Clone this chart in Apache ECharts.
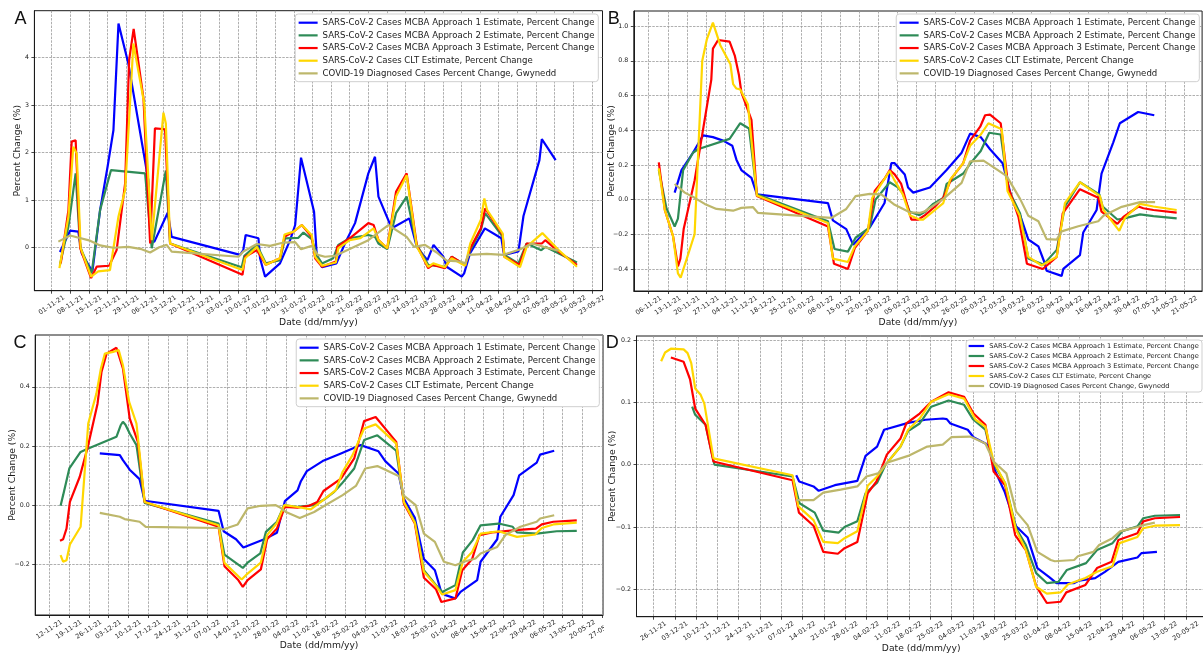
<!DOCTYPE html>
<html>
<head>
<meta charset="utf-8">
<script src="https://cdn.jsdelivr.net/npm/echarts@6/dist/echarts.min.js"></script>
<style>
html, body { margin: 0; padding: 0; background: #fff; }
#wrap { position: relative; width: 1203px; height: 655px; overflow: hidden; background: #fff; }
.panel { position: absolute; overflow: hidden; }
</style>
</head>
<body>
<div id="wrap">
  <div id="pA" class="panel" style="left:0;top:0;width:604px;height:330px"></div>
  <div id="pB" class="panel" style="left:604px;top:0;width:599px;height:330px"></div>
  <div id="pC" class="panel" style="left:0;top:330px;width:604px;height:325px"></div>
  <div id="pD" class="panel" style="left:604px;top:330px;width:599px;height:325px"></div>
</div>
<script>
// ---- Series names and colours (shared by all four panels) ----
const seriesNames = [
  'SARS-CoV-2 Cases MCBA Approach 1 Estimate, Percent Change',
  'SARS-CoV-2 Cases MCBA Approach 2 Estimate, Percent Change',
  'SARS-CoV-2 Cases MCBA Approach 3 Estimate, Percent Change',
  'SARS-CoV-2 Cases CLT Estimate, Percent Change',
  'COVID-19 Diagnosed Cases Percent Change, Gwynedd'
];
const seriesColors = ['#0000ff', '#2e8b57', '#ff0000', '#ffd700', '#bdb76b'];

// ---- Tick labels ----
const ticksA = ['01-11-21','08-11-21','15-11-21','22-11-21','29-11-21','06-12-21','13-12-21','20-12-21','27-12-21','03-01-22','10-01-22','17-01-22','24-01-22','31-01-22','07-02-22','14-02-22','21-02-22','28-02-22','07-03-22','14-03-22','21-03-22','28-03-22','04-04-22','11-04-22','18-04-22','25-04-22','02-05-22','09-05-22','16-05-22','23-05-22'];
const ticksB = ['06-11-21','13-11-21','20-11-21','27-11-21','04-12-21','11-12-21','18-12-21','25-12-21','01-01-22','08-01-22','15-01-22','22-01-22','29-01-22','05-02-22','12-02-22','19-02-22','26-02-22','05-03-22','12-03-22','19-03-22','26-03-22','02-04-22','09-04-22','16-04-22','23-04-22','30-04-22','07-05-22','14-05-22','21-05-22'];
const ticksC = ['12-11-21','19-11-21','26-11-21','03-12-21','10-12-21','17-12-21','24-12-21','31-12-21','07-01-22','14-01-22','21-01-22','28-01-22','04-02-22','11-02-22','18-02-22','25-02-22','04-03-22','11-03-22','18-03-22','25-03-22','01-04-22','08-04-22','15-04-22','22-04-22','29-04-22','06-05-22','13-05-22','20-05-22','27-05-22'];
const ticksD = ['26-11-21','03-12-21','10-12-21','17-12-21','24-12-21','31-12-21','07-01-22','14-01-22','21-01-22','28-01-22','04-02-22','11-02-22','18-02-22','25-02-22','04-03-22','11-03-22','18-03-22','25-03-22','01-04-22','08-04-22','15-04-22','22-04-22','29-04-22','06-05-22','13-05-22','20-05-22'];
const yTicksA = [0, 1, 2, 3, 4];
const yTicksB = [-0.4, -0.2, 0, 0.2, 0.4, 0.6, 0.8, 1.0];
const yTicksC = [-0.2, 0, 0.2, 0.4];
const yTicksD = [-0.2, -0.1, 0, 0.1, 0.2];

// ---- Data: [days since 01-11-21, percent change] ----
// Panel A
const aMcba1 = [[3.1,-0.1],[6.9,0.35],[10,0.33],[11.3,-0.13],[15.3,-0.51],[18.2,0.79],[21,1.7],[23.2,2.47],[25.1,4.72],[28.8,3.88],[36.3,1.42],[37.6,0.12],[38.6,0.12],[43.6,0.73],[45.1,0.22],[70.8,-0.16],[72,-0.06],[72.9,0.26],[77.7,0.19],[78.3,-0.23],[80.2,-0.62],[85.8,-0.34],[89.6,0.15],[91.5,0.47],[93.7,1.89],[98.6,0.75],[99.6,-0.16],[101.6,-0.42],[107,-0.34],[110.2,0.08],[114,0.51],[119,1.56],[121.5,1.91],[122.8,1.07],[127.8,0.4],[134.4,0.61],[137.2,0.01],[141.2,-0.27],[143.5,0.05],[147.2,-0.2],[148.4,-0.41],[154.1,-0.62],[155,-0.55],[157.2,-0.13],[162.8,0.4],[169,0.19],[170,-0.16],[175.4,-0.09],[177.3,0.66],[183.3,1.84],[184.2,2.28],[189.4,1.84]];
const aMcba2 = [[3.1,-0.37],[6.3,0.44],[9,1.56],[10.7,0],[15,-0.55],[18.2,0.79],[22.3,1.63],[35.1,1.56],[37.6,-0.02],[42.9,1.62],[44.5,0.08],[71.4,-0.42],[72.4,-0.18],[77.1,0.05],[80.5,-0.34],[85.8,-0.27],[87.7,0.19],[92.7,0.2],[94.6,0.31],[97.7,0.17],[100,-0.2],[101.6,-0.34],[105.8,-0.23],[107.7,0.05],[112,0.19],[119,0.26],[121.5,0.22],[122.8,0.08],[126.1,-0.04],[129.4,0.72],[133.4,1.07],[137.2,0.05],[141.5,-0.37],[147.8,-0.41],[150.3,-0.2],[155.4,-0.37],[157.3,-0.06],[161.3,0.37],[162.9,0.72],[169.5,0.22],[170.1,-0.16],[175.4,-0.34],[178.5,0.08],[184,-0.06],[185.5,0.01],[197.4,-0.32]];
const aMcba3 = [[3.4,-0.34],[6.3,0.79],[7.5,2.23],[9,2.26],[10.7,-0.02],[14.8,-0.65],[16.9,-0.41],[21.6,-0.39],[24.4,-0.06],[27.6,1.35],[29.1,3.95],[30.8,4.61],[34.5,3.14],[37,0.08],[38.8,2.51],[42.6,2.49],[44.5,0.08],[71.7,-0.58],[72.7,-0.2],[77.1,-0.06],[80.5,-0.37],[85.8,-0.23],[87.5,0.22],[90.9,0.33],[94,0.47],[97.7,0.22],[99,-0.23],[101.6,-0.41],[106.8,-0.3],[107.3,0.01],[112,0.19],[119,0.51],[121,0.47],[122.8,0.15],[126.1,-0.02],[129.4,1.17],[133.4,1.56],[137.2,0.05],[141.5,-0.44],[143.2,-0.37],[147.8,-0.44],[150.3,-0.2],[155.4,-0.37],[157.3,-0.02],[161.3,0.4],[162.9,0.82],[169.5,0.26],[170.1,-0.2],[175.8,-0.37],[178.5,0.08],[184.2,0.08],[185.5,0.15],[190.5,-0.09],[197.4,-0.37]];
const aClt = [[2.9,-0.44],[6.3,0.65],[8.1,2.12],[9.4,1.98],[10.9,-0.02],[14.8,-0.62],[17.5,-0.51],[21.9,-0.48],[25.1,0.65],[27.6,1.21],[30.7,4.3],[34.8,3.03],[37.6,0.15],[42,2.84],[42.9,2.61],[44.5,0.08],[71.7,-0.48],[72.7,-0.23],[77.1,0.01],[80.5,-0.37],[85.8,-0.23],[87.5,0.27],[90.9,0.33],[94,0.47],[97.7,0.26],[99,-0.2],[101.6,-0.39],[106.8,-0.32],[107.7,-0.02],[112,0.15],[115.9,0.19],[121,0.4],[122.8,0.15],[126.1,-0.02],[129.4,1.07],[133.4,1.52],[137.2,0.01],[141.5,-0.41],[143.4,-0.34],[147.8,-0.42],[150.3,-0.23],[155.4,-0.39],[157.3,0.08],[161.3,0.58],[162.6,1.03],[163.6,0.79],[169.5,0.29],[170.1,-0.2],[176,-0.42],[178.5,0.01],[184.4,0.3],[190.5,-0.06],[197.4,-0.41]];
const aGwynedd = [[2.5,0.12],[6.9,0.25],[14.4,0.14],[18.2,0.04],[23.2,-0.01],[28.8,0.01],[33.8,-0.04],[37,-0.11],[40.4,0],[43.2,0.05],[45.1,-0.09],[70.2,-0.2],[72,-0.09],[77.1,0.07],[82.1,0.03],[87.1,0.1],[91.5,0.11],[93.7,-0.04],[97.7,0.03],[100,-0.16],[102.7,-0.2],[106.5,-0.18],[110,-0.09],[119,0.15],[126.5,0.47],[133.4,0.22],[136.2,0.01],[140.3,0.05],[144.7,-0.11],[148.4,-0.28],[153.5,-0.3],[155.4,-0.34],[156.6,-0.16],[163.5,-0.14],[169.8,-0.16],[176.1,-0.04],[180.5,0.08],[184.9,0.01],[190.5,-0.07]];

// Panel B
const bMcba1 = [[14.5,0.04],[17,0.17],[21.2,0.27],[24.9,0.37],[28.5,0.36],[32.2,0.34],[35.6,0.31],[37.1,0.23],[38.9,0.17],[42.6,0.125],[44.6,0.03],[70.6,-0.02],[72.4,-0.12],[77.3,-0.17],[79.8,-0.26],[85.9,-0.16],[91.3,-0.02],[93.8,0.21],[95,0.21],[98.7,0.145],[99.9,0.07],[101.8,0.04],[107.9,0.07],[114,0.17],[119.5,0.27],[122.6,0.38],[126.5,0.36],[129.9,0.29],[134.5,0.21],[137.8,0.01],[140.9,-0.09],[143.9,-0.23],[147.6,-0.27],[150,-0.37],[150.6,-0.41],[156.1,-0.44],[156.7,-0.4],[162.8,-0.32],[164,-0.19],[168.9,-0.06],[170.7,0.15],[175,0.33],[177.4,0.44],[184.1,0.505],[190,0.486]];
const bMcba2 = [[8.7,0.17],[11.5,-0.05],[14.5,-0.155],[15.7,-0.11],[17.6,0.17],[21.2,0.27],[23,0.29],[34.6,0.35],[38.5,0.44],[41.7,0.41],[44.6,0.03],[70.6,-0.125],[73,-0.285],[77.9,-0.3],[80.7,-0.22],[85.9,-0.16],[88,0],[93.2,0.1],[96.2,0.07],[97.8,0.04],[100.5,-0.07],[104.1,-0.09],[106.1,-0.07],[109.1,-0.025],[112.8,0.01],[114,0.09],[120.1,0.15],[122.8,0.21],[126.5,0.28],[129.6,0.385],[133.8,0.375],[136.6,0.06],[140.9,-0.08],[143.9,-0.34],[149.4,-0.375],[154.3,-0.29],[157.3,-0.04],[162.8,0.1],[169.9,0.03],[171.1,-0.04],[176.5,-0.115],[178.7,-0.11],[184.8,-0.085],[189.7,-0.095],[198.2,-0.108]];
const bMcba3 = [[8.7,0.215],[10.9,-0.06],[13.9,-0.21],[15.7,-0.385],[16.6,-0.34],[17.8,-0.17],[21.8,0.11],[27.9,0.69],[28.5,0.87],[30.4,0.92],[34.6,0.91],[36.5,0.83],[38,0.72],[38.9,0.62],[42.6,0.46],[44.6,0.02],[70.6,-0.155],[72.8,-0.37],[77.9,-0.4],[80.4,-0.28],[85.2,-0.18],[87.7,0.05],[91.3,0.12],[93.2,0.17],[95,0.145],[97.4,0.09],[99.3,-0.015],[101.1,-0.115],[103.7,-0.115],[106.1,-0.09],[109.8,-0.04],[112.8,0.01],[115.9,0.125],[120.1,0.21],[122.6,0.34],[126.3,0.42],[128.1,0.486],[129.9,0.49],[133.8,0.44],[136.6,0.07],[140.3,-0.1],[143.4,-0.37],[149.2,-0.4],[154.3,-0.33],[156.5,-0.08],[162.8,0.06],[169.5,0.01],[170.7,-0.07],[176.5,-0.14],[178.7,-0.1],[184.2,-0.04],[186,-0.05],[189.7,-0.06],[198.2,-0.075]];
const bClt = [[8.7,0.18],[10.9,-0.06],[13.9,-0.21],[15.7,-0.425],[16.7,-0.45],[21.8,-0.2],[24.6,0.8],[26.3,0.925],[28.5,1.02],[31.2,0.89],[34.9,0.78],[35.9,0.665],[37.1,0.64],[38.5,0.635],[41.3,0.55],[44.6,0.023],[70.6,-0.135],[72.4,-0.34],[77.9,-0.36],[80.4,-0.27],[85.2,-0.18],[86.8,0.01],[93.2,0.165],[94.8,0.115],[98,0.03],[100.5,-0.09],[104.1,-0.115],[105.5,-0.115],[112.8,-0.02],[115.3,0.115],[120.1,0.21],[122.6,0.31],[126.5,0.375],[129.3,0.44],[134.2,0.405],[136.3,0.05],[140.7,-0.09],[143.9,-0.33],[148.8,-0.38],[154.3,-0.33],[157.3,-0.02],[162.8,0.1],[170.1,0.02],[171.4,-0.06],[177.2,-0.18],[179.3,-0.105],[184.8,-0.025],[189.7,-0.04],[198.2,-0.06]];
const bGwynedd = [[14.5,0.09],[18.2,0.04],[21.8,0.01],[25.5,-0.025],[29.8,-0.054],[35.9,-0.064],[38.9,-0.048],[43.2,-0.044],[45,-0.077],[71.8,-0.106],[77.3,-0.054],[80.7,0.02],[85.9,0.033],[90.1,0.03],[95,-0.03],[100.5,-0.073],[104.1,-0.077],[106.1,-0.067],[112.8,0.004],[119.5,0.096],[122.6,0.22],[127.5,0.225],[131.8,0.18],[136,0.135],[140.9,0.004],[143.9,-0.093],[147.6,-0.125],[150.6,-0.228],[154.3,-0.231],[156.1,-0.183],[162.2,-0.154],[169.5,-0.125],[171.4,-0.093],[178.1,-0.042],[184.8,-0.015],[190.3,-0.015]];

// Panel C
const cMcba1 = [[28.9,0.175],[36,0.169],[37.1,0.152],[39.5,0.12],[43,0.088],[44.8,0.015],[71,-0.019],[72.8,-0.088],[77.2,-0.115],[79.8,-0.143],[87.2,-0.115],[91.7,-0.093],[94.5,0.0135],[99,0.05],[100.2,0.081],[102.3,0.115],[107.9,0.149],[114.4,0.175],[121.4,0.203],[127.7,0.182],[130.1,0.149],[134.8,0.107],[136.7,0.0225],[140.6,-0.043],[143.8,-0.182],[147.7,-0.22],[150,-0.295],[151.5,-0.304],[155,-0.315],[156.8,-0.293],[162.7,-0.253],[163.9,-0.191],[169.8,-0.115],[170.9,-0.039],[175.6,0.034],[177.6,0.101],[183.8,0.144],[185,0.171],[190,0.184]];
const cMcba2 = [[15,-0.002],[15.9,0.034],[18.1,0.124],[22.1,0.18],[24.2,0.189],[34.8,0.231],[36.3,0.27],[37.1,0.282],[38,0.272],[39.5,0.242],[41.9,0.203],[44.8,0.008],[71,-0.062],[73.1,-0.167],[79.6,-0.212],[81.3,-0.194],[85.8,-0.163],[87.8,-0.09],[91.7,-0.056],[94.3,0],[99,-0.006],[104.9,0],[108.4,0.019],[112,0.045],[114.7,0.073],[119.1,0.124],[122.6,0.22],[127.3,0.236],[134,0.184],[136.7,0.011],[140.6,-0.056],[143.8,-0.22],[147.9,-0.268],[150.3,-0.293],[155,-0.27],[157.6,-0.16],[161.1,-0.118],[163.9,-0.068],[170.3,-0.062],[175.3,-0.073],[176.8,-0.092],[183.8,-0.096],[190.9,-0.088],[198,-0.087]];
const cMcba3 = [[14.8,-0.12],[15.9,-0.115],[17.1,-0.079],[18.3,0.011],[21.8,0.096],[24.8,0.203],[28.1,0.343],[29.5,0.45],[31.3,0.512],[34.8,0.532],[37.1,0.462],[39.5,0.293],[42.4,0.214],[44.8,0.011],[71,-0.073],[73.1,-0.206],[78,-0.253],[79.6,-0.276],[81.3,-0.253],[86,-0.217],[88.2,-0.115],[91.7,-0.079],[94.5,-0.006],[99,-0.008],[103.1,-0.002],[106,0.011],[108.2,0.048],[114.4,0.09],[119.1,0.158],[122.6,0.284],[126.7,0.298],[134,0.214],[136.7,0.006],[140.6,-0.062],[143.8,-0.245],[148.1,-0.284],[150,-0.327],[155,-0.315],[157.4,-0.22],[160.9,-0.182],[163.5,-0.101],[168,-0.092],[170.3,-0.09],[176.2,-0.084],[183.5,-0.079],[185.6,-0.065],[189.7,-0.056],[198,-0.051]];
const cClt = [[15,-0.169],[15.9,-0.191],[17.1,-0.186],[18.3,-0.133],[22.1,-0.073],[24.8,0.276],[27.7,0.377],[29.3,0.462],[30.7,0.512],[33.6,0.518],[35.6,0.524],[37.1,0.473],[39.3,0.349],[41.9,0.276],[44.8,0.011],[71,-0.068],[73.1,-0.195],[79.2,-0.251],[81.3,-0.231],[86,-0.194],[88.2,-0.101],[91.7,-0.06],[94.3,0],[99,-0.006],[103.7,-0.014],[108.2,0.018],[112.6,0.051],[115,0.113],[118.5,0.169],[122.6,0.259],[126.7,0.273],[134,0.208],[136.7,0.011],[140.6,-0.059],[143.8,-0.225],[147.9,-0.27],[150.3,-0.302],[155,-0.287],[157.6,-0.191],[160.9,-0.158],[163.9,-0.096],[170.3,-0.088],[176.8,-0.107],[183.3,-0.099],[185.6,-0.077],[189.7,-0.065],[198,-0.059]];
const cGwynedd = [[28.9,-0.026],[36,-0.039],[37.7,-0.047],[43,-0.056],[45.2,-0.073],[70.8,-0.077],[72.5,-0.082],[77.8,-0.065],[81.3,-0.011],[86,-0.002],[91.3,0],[92.5,-0.006],[94.9,-0.023],[99.8,-0.043],[104.9,-0.023],[107.5,-0.008],[115,0.034],[119.7,0.065],[123,0.124],[127.3,0.132],[135,0.098],[136.7,0.032],[140.9,0],[143.8,-0.096],[147.7,-0.124],[150.9,-0.191],[155,-0.203],[158,-0.191],[162.1,-0.18],[163.9,-0.163],[169.8,-0.141],[172.7,-0.101],[178,-0.073],[183.8,-0.056],[185,-0.045],[190,-0.034]];

// Panel D
const dMcba1 = [[71.9,-0.017],[72.9,-0.027],[77.6,-0.035],[79.3,-0.042],[84.6,-0.033],[92,-0.026],[94.7,0.014],[98.5,0.029],[100.8,0.056],[108.7,0.067],[114.4,0.072],[120.1,0.074],[121.4,0.073],[122.6,0.066],[128.3,0.056],[130.2,0.044],[134.1,0.034],[135.3,0.029],[137.2,-0.009],[140.4,-0.043],[144.2,-0.099],[148,-0.117],[151.2,-0.166],[155,-0.18],[157.5,-0.19],[163.3,-0.19],[164.9,-0.186],[170.2,-0.182],[173.4,-0.172],[177.8,-0.156],[184.1,-0.149],[185.4,-0.142],[190.5,-0.14]];
const dMcba2 = [[37.7,0.093],[38.7,0.08],[42.1,0.064],[45,0],[70.7,-0.019],[73,-0.062],[78,-0.077],[80.8,-0.106],[85.9,-0.109],[87.8,-0.1],[92,-0.091],[94.7,-0.046],[98.5,-0.029],[101.3,0],[106.2,0.029],[108.7,0.054],[112.5,0.066],[116.3,0.093],[122,0.103],[127.1,0.096],[130,0.073],[134.1,0.056],[136.8,0.002],[140.6,-0.03],[144.2,-0.102],[147.4,-0.129],[150.8,-0.174],[154.3,-0.19],[158.1,-0.188],[160.9,-0.169],[167.2,-0.158],[170.8,-0.137],[175.9,-0.126],[179.1,-0.107],[184.1,-0.099],[186,-0.086],[189.8,-0.082],[198.1,-0.081]];
const dMcba3 = [[30.7,0.172],[34.9,0.165],[37,0.137],[38.7,0.09],[42.1,0.064],[44.7,0.005],[70.7,-0.025],[72.8,-0.077],[77.6,-0.098],[80.8,-0.14],[85.6,-0.143],[87.8,-0.134],[92,-0.124],[95.4,-0.046],[98.3,-0.027],[101.7,0.016],[106.2,0.042],[108.1,0.066],[112.5,0.082],[116.3,0.101],[122,0.116],[127.1,0.109],[130.2,0.082],[134.1,0.064],[136.8,-0.011],[140.6,-0.033],[143.9,-0.113],[147.4,-0.137],[150.8,-0.195],[154.3,-0.222],[158.8,-0.22],[160.7,-0.205],[167,-0.193],[170.8,-0.166],[175.6,-0.156],[177.8,-0.121],[184.1,-0.11],[186,-0.091],[189.8,-0.086],[198.1,-0.084]];
const dClt = [[27.5,0.166],[28.8,0.18],[30.7,0.186],[34.9,0.185],[36.2,0.179],[37.4,0.163],[38.7,0.122],[40.5,0.112],[41.7,0.098],[44.7,0.01],[70.7,-0.017],[72.6,-0.067],[77.6,-0.089],[80.8,-0.124],[85.6,-0.126],[87.8,-0.118],[92,-0.107],[95.4,-0.034],[98.5,-0.019],[101.3,0],[106.2,0.029],[108.7,0.056],[112.5,0.074],[116.3,0.101],[122,0.113],[127.1,0.106],[130.9,0.072],[134.1,0.061],[136.8,0.005],[140.6,-0.03],[144.2,-0.105],[147.4,-0.137],[150.8,-0.196],[154.3,-0.207],[158.8,-0.205],[161.3,-0.192],[167,-0.182],[170.8,-0.172],[175.9,-0.163],[178.2,-0.126],[184.1,-0.116],[186,-0.102],[189.8,-0.098],[198.1,-0.097]];
const dGwynedd = [[71.9,-0.057],[77.6,-0.057],[80.8,-0.045],[86.5,-0.04],[92,-0.035],[95,-0.019],[98.8,-0.014],[101.7,0.003],[108.7,0.014],[115,0.029],[120.1,0.032],[122.9,0.044],[129.1,0.045],[134.1,0.034],[136.8,0.005],[141,-0.014],[144.2,-0.075],[148,-0.097],[151.2,-0.14],[155.6,-0.153],[156.9,-0.155],[163.3,-0.153],[164.5,-0.147],[169.6,-0.14],[171.5,-0.129],[175.9,-0.118],[178.4,-0.107],[184.1,-0.1],[186,-0.097],[189.8,-0.093]];

// ---- Helpers ----
const FONT = 'DejaVu Sans';
const EPOCH = Date.UTC(2021, 10, 1);
function dayOf(s) {
  const p = s.split('-').map(Number);
  return Math.round((Date.UTC(2000 + p[2], p[1] - 1, p[0]) - EPOCH) / 86400000);
}
function yLabel(v, digits) {
  const s = Math.abs(v) < 1e-9 ? (0).toFixed(digits) : v.toFixed(digits);
  return s.replace('-', '\u2212');
}

// ---- Panel layout ----
const panels = [
  { el: 'pA', letter: 'A', letterAt: [14.5, 19.5], data: [aMcba1, aMcba2, aMcba3, aClt, aGwynedd],
    xTicks: ticksA, xMin: -6.5, xMax: 207.0, yTicks: yTicksA, yMin: -0.916, yMax: 4.992, digits: 0,
    grid: { left: 34.4, top: 10.7, width: 568.1, height: 280 },
    legend: { top: 14, right: 5.7, fontSize: 8.55, lineHeight: 10, gap: 2.67, itemWidth: 19, padding: [3.7, 3.9, 3.3, 3.4] },
    yNameGap: 12.5, xNameGap: 27.5 },
  { el: 'pB', letter: 'B', letterAt: [3.7, 19.2], data: [bMcba1, bMcba2, bMcba3, bClt, bGwynedd],
    xTicks: ticksB, xMin: -0.45, xMax: 207.5, yTicks: yTicksB, yMin: -0.527, yMax: 1.087, digits: 1,
    grid: { left: 29.8, top: 11, width: 568.3, height: 280 },
    legend: { top: 14, right: 3.7, fontSize: 8.55, lineHeight: 10, gap: 2.67, itemWidth: 19, padding: [3.7, 3.9, 3.3, 3.4] },
    yNameGap: 18, xNameGap: 27.2 },
  { el: 'pC', letter: 'C', letterAt: [13.4, 13], data: [cMcba1, cMcba2, cMcba3, cClt, cGwynedd],
    xTicks: ticksC, xMin: 6.0, xMax: 207.3, yTicks: yTicksC, yMin: -0.371, yMax: 0.575, digits: 1,
    grid: { left: 35.2, top: 5, width: 567.8, height: 280 },
    legend: { top: 9, right: 4.7, fontSize: 8.55, lineHeight: 10, gap: 2.67, itemWidth: 19, padding: [3.7, 3.9, 3.3, 3.4] },
    yNameGap: 18.5, xNameGap: 26.5 },
  { el: 'pD', letter: 'D', letterAt: [1.8, 13.3], data: [dMcba1, dMcba2, dMcba3, dClt, dGwynedd],
    xTicks: ticksD, xMin: 19.4, xMax: 206.6, yTicks: yTicksD, yMin: -0.244, yMax: 0.2064, digits: 1,
    grid: { left: 32.5, top: 6, width: 569.4, height: 280.7 },
    legend: { top: 10, right: 1, fontSize: 6.6, lineHeight: 8, gap: 2, itemWidth: 15.5, padding: [2, 3.2, 2, 2.5] },
    yNameGap: 19.5, xNameGap: 27 }
];

const gridLine = { color: '#9a9a9a', width: 0.8, type: [2.5, 1.2] };
const inkColor = '#1a1a1a';

panels.forEach(function (p) {
  const chart = echarts.init(document.getElementById(p.el), null, { renderer: 'canvas' });
  const tickDays = p.xTicks.map(dayOf);
  const labelByDay = {};
  p.xTicks.forEach(function (s, i) { labelByDay[tickDays[i]] = s; });

  chart.setOption({
    animation: false,
    textStyle: { fontFamily: FONT },
    grid: Object.assign({ show: true, borderColor: inkColor, borderWidth: 1, containLabel: false, outerBoundsMode: 'none' }, p.grid),
    xAxis: {
      type: 'value', min: p.xMin, max: p.xMax,
      name: 'Date (dd/mm/yy)', nameLocation: 'middle', nameGap: p.xNameGap, nameMoveOverlap: false,
      nameTextStyle: { fontFamily: FONT, fontSize: 9.2, color: inkColor },
      axisLine: { show: true, onZero: false, lineStyle: { color: inkColor, width: 1 } },
      axisTick: { show: true, customValues: tickDays, length: 3, lineStyle: { color: inkColor, width: 0.8 } },
      axisLabel: {
        customValues: tickDays, formatter: function (v) { return labelByDay[Math.round(v)] || ''; },
        rotate: 33, align: 'center', verticalAlign: 'middle', margin: 14.5,
        fontFamily: FONT, fontSize: 6.5, color: inkColor
      },
      splitLine: { show: true, lineStyle: gridLine }
    },
    yAxis: {
      type: 'value', min: p.yMin, max: p.yMax,
      name: 'Percent Change (%)', nameLocation: 'middle', nameGap: p.yNameGap, nameMoveOverlap: false,
      nameTextStyle: { fontFamily: FONT, fontSize: 9.2, color: inkColor },
      axisLine: { show: true, onZero: false, lineStyle: { color: inkColor, width: 1 } },
      axisTick: { show: true, customValues: p.yTicks, length: 3, lineStyle: { color: inkColor, width: 0.8 } },
      axisLabel: {
        customValues: p.yTicks, formatter: function (v) { return yLabel(v, p.digits); },
        margin: 5.5, fontFamily: FONT, fontSize: 6.3, color: inkColor
      },
      splitLine: { show: true, lineStyle: gridLine }
    },
    legend: {
      orient: 'vertical', top: p.legend.top, right: p.legend.right,
      icon: 'rect', itemWidth: p.legend.itemWidth, itemHeight: 2.2, itemGap: p.legend.gap,
      padding: p.legend.padding, backgroundColor: '#ffffff', borderColor: '#cfcfcf', borderWidth: 1, borderRadius: 3,
      textStyle: { fontFamily: FONT, fontSize: p.legend.fontSize, lineHeight: p.legend.lineHeight, color: inkColor },
      selectedMode: false,
      data: seriesNames
    },
    graphic: [{
      type: 'text', x: p.letterAt[0], y: p.letterAt[1], silent: true,
      style: { text: p.letter, fontFamily: 'Liberation Sans', fontSize: 18, fill: '#111', align: 'left', verticalAlign: 'middle' }
    }],
    series: p.data.map(function (d, i) {
      return {
        type: 'line', name: seriesNames[i], data: d,
        showSymbol: false, symbol: 'none', silent: true,
        lineStyle: { width: 2.2, color: seriesColors[i] },
        itemStyle: { color: seriesColors[i] },
        emphasis: { disabled: true }
      };
    })
  });
});
</script>
</body>
</html>
